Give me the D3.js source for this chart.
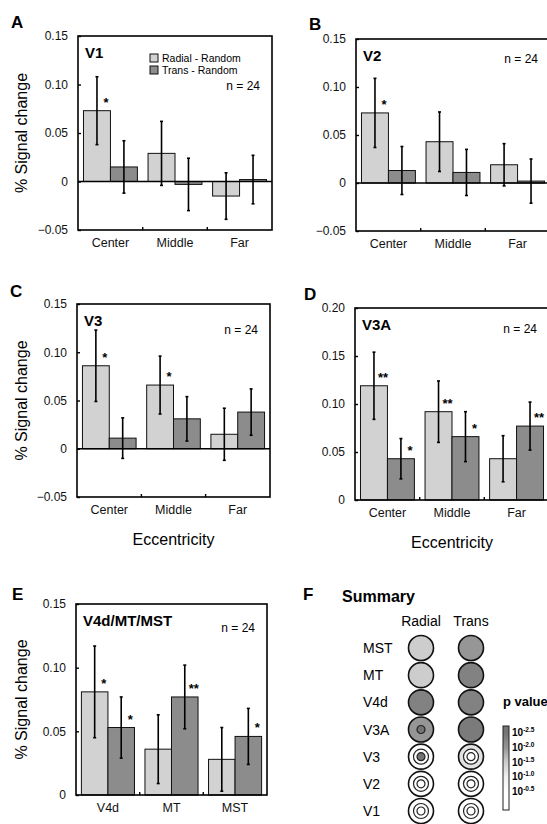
<!DOCTYPE html>
<html>
<head>
<meta charset="utf-8">
<script src="https://cdn.jsdelivr.net/npm/d3@7"></script>
<style>
body{margin:0;background:#fff;}
svg{font-family:"Liberation Sans",Arial,Helvetica,sans-serif;}
</style>
</head>
<body>
<svg id="fig" width="547" height="824"></svg>
<script>
/*
	Radial / Trans vs Random, % signal change by area
*/

var eccentricity = ["Center","Middle","Far"];
var areasE = ["V4d","MT","MST"];

//V1
var v1Radial = [0.073, 0.029, -0.015];
var v1RadialErr = [0.035, 0.033, 0.024];
var v1Trans = [0.015, -0.003, 0.002];
var v1TransErr = [0.027, 0.027, 0.025];
var v1RadialSig = ["*", "", ""];
var v1TransSig = ["", "", ""];

//V2
var v2Radial = [0.073, 0.043, 0.019];
var v2RadialErr = [0.036, 0.031, 0.022];
var v2Trans = [0.013, 0.011, 0.002];
var v2TransErr = [0.025, 0.024, 0.023];
var v2RadialSig = ["*", "", ""];
var v2TransSig = ["", "", ""];

//V3
var v3Radial = [0.086, 0.066, 0.015];
var v3RadialErr = [0.037, 0.030, 0.027];
var v3Trans = [0.011, 0.031, 0.038];
var v3TransErr = [0.021, 0.023, 0.024];
var v3RadialSig = ["*", "*", ""];
var v3TransSig = ["", "", ""];

//V3A
var v3aRadial = [0.119, 0.092, 0.043];
var v3aRadialErr = [0.035, 0.032, 0.024];
var v3aTrans = [0.043, 0.066, 0.077];
var v3aTransErr = [0.021, 0.026, 0.025];
var v3aRadialSig = ["**", "**", ""];
var v3aTransSig = ["*", "*", "**"];

//V4d/MT/MST
var v4Radial = [0.081, 0.036, 0.028];
var v4RadialErr = [0.036, 0.027, 0.025];
var v4Trans = [0.053, 0.077, 0.046];
var v4TransErr = [0.024, 0.025, 0.022];
var v4RadialSig = ["*", "", ""];
var v4TransSig = ["*", "**", "*"];

var ticksA = [-0.05, 0, 0.05, 0.10, 0.15];
var ticksD = [0, 0.05, 0.10, 0.15, 0.20];
var ticksE = [0, 0.05, 0.10, 0.15];

//Summary: -log10(p), rings [center, middle, far]
var summaryAreas = ["MST","MT","V4d","V3A","V3","V2","V1"];
var summaryCols = ["Radial","Trans"];
var radialP = [[1.5,1.5,1.5],[1.5,1.5,1.5],[2.3,2.3,2.3],[2.5,2.0,2.0],[2.5,0.5,0.5],[0.5,0.5,0.5],[0.5,0.5,0.5]];
var transP = [[2.0,2.0,2.0],[2.3,2.3,2.3],[2.3,2.3,2.3],[2.4,2.4,2.4],[0.5,0.5,1.2],[0.5,0.5,0.5],[0.5,0.5,0.5]];
var pTicks = [2.5, 2.0, 1.5, 1.0, 0.5];

var radialFill = "#d2d2d2";
var transFill = "#8c8c8c";

function init(){
	var svg = d3.select('#fig');

	barPanel(svg, {letter:"A", lx:11, ly:28, x0:78, x1:272, y0:36, y1:230, domain:[-0.05,0.15], ticks:ticksA,
		cats:eccentricity, radial:v1Radial, radialErr:v1RadialErr, trans:v1Trans, transErr:v1TransErr,
		radialSig:v1RadialSig, transSig:v1TransSig, title:"V1", nDy:54, yTitle:true, legend:true});

	barPanel(svg, {letter:"B", lx:309, ly:30, x0:356, x1:550, y0:39, y1:231, domain:[-0.05,0.15], ticks:ticksA,
		cats:eccentricity, radial:v2Radial, radialErr:v2RadialErr, trans:v2Trans, transErr:v2TransErr,
		radialSig:v2RadialSig, transSig:v2TransSig, title:"V2", nDy:24});

	barPanel(svg, {letter:"C", lx:10, ly:297, x0:77, x1:270, y0:304, y1:497, domain:[-0.05,0.15], ticks:ticksA,
		cats:eccentricity, radial:v3Radial, radialErr:v3RadialErr, trans:v3Trans, transErr:v3TransErr,
		radialSig:v3RadialSig, transSig:v3TransSig, title:"V3", nDy:30, yTitle:true, xTitle:"Eccentricity"});

	barPanel(svg, {letter:"D", lx:304, ly:300, x0:355, x1:549, y0:308, y1:500, domain:[0,0.20], ticks:ticksD,
		cats:eccentricity, radial:v3aRadial, radialErr:v3aRadialErr, trans:v3aTrans, transErr:v3aTransErr,
		radialSig:v3aRadialSig, transSig:v3aTransSig, title:"V3A", nDy:25, xTitle:"Eccentricity"});

	barPanel(svg, {letter:"E", lx:12, ly:600, x0:76, x1:267, y0:604, y1:795, domain:[0,0.15], ticks:ticksE,
		cats:areasE, radial:v4Radial, radialErr:v4RadialErr, trans:v4Trans, transErr:v4TransErr,
		radialSig:v4RadialSig, transSig:v4TransSig, title:"V4d/MT/MST", nDy:28, yTitle:true});

	summary(svg);
}

//Bar panels

function barPanel(svg, c){
	var g = svg.append("g");
	var x = d3.scaleBand().domain(c.cats).range([c.x0, c.x1]).paddingInner(0.165).paddingOuter(0.085);
	var x2 = d3.scaleBand().domain(["radial","trans"]).range([0, x.bandwidth()]);
	var y = d3.scaleLinear().domain(c.domain).range([c.y1, c.y0]);

	var rows = [];
	for (var i = 0; i < c.cats.length; i++) {
		rows.push({cat:c.cats[i], key:"radial", v:c.radial[i], e:c.radialErr[i], s:c.radialSig[i]});
		rows.push({cat:c.cats[i], key:"trans", v:c.trans[i], e:c.transErr[i], s:c.transSig[i]});
	}

	g.selectAll(".bar").data(rows).enter().append("rect")
		.attr("class","bar")
		.attr("x", function(d){ return x(d.cat)+x2(d.key); })
		.attr("y", function(d){ return y(Math.max(d.v,0)); })
		.attr("width", x2.bandwidth())
		.attr("height", function(d){ return Math.abs(y(d.v)-y(0)); })
		.attr("fill", function(d){ return d.key=="radial" ? radialFill : transFill; })
		.attr("stroke","#111")
		.attr("stroke-width",1);

	//zero line
	if (c.domain[0] < 0) {
		g.append("line")
			.attr("x1",c.x0).attr("x2",c.x1)
			.attr("y1",y(0)).attr("y2",y(0))
			.attr("stroke","#000").attr("stroke-width",1.6);
	}

	//error bars
	var eb = g.selectAll(".err").data(rows).enter().append("g").attr("class","err");
	eb.append("line")
		.attr("x1", function(d){ return x(d.cat)+x2(d.key)+x2.bandwidth()/2; })
		.attr("x2", function(d){ return x(d.cat)+x2(d.key)+x2.bandwidth()/2; })
		.attr("y1", function(d){ return y(d.v+d.e); })
		.attr("y2", function(d){ return y(d.v-d.e); })
		.attr("stroke","#000").attr("stroke-width",1.6);
	[1,-1].forEach(function(k){
		eb.append("line")
			.attr("x1", function(d){ return x(d.cat)+x2(d.key)+x2.bandwidth()/2-1.5; })
			.attr("x2", function(d){ return x(d.cat)+x2(d.key)+x2.bandwidth()/2+1.5; })
			.attr("y1", function(d){ return y(d.v+k*d.e); })
			.attr("y2", function(d){ return y(d.v+k*d.e); })
			.attr("stroke","#000").attr("stroke-width",1.6);
	});

	//stars
	g.selectAll(".sig").data(rows.filter(function(d){ return d.s; })).enter().append("text")
		.attr("class","sig")
		.attr("x", function(d){ return x(d.cat)+x2(d.key)+x2.bandwidth()/2+9; })
		.attr("y", function(d){ return y(Math.max(d.v,0))-4; })
		.attr("text-anchor","middle")
		.attr("font-size",13).attr("font-weight","bold")
		.text(function(d){ return d.s; });

	//frame
	g.append("rect")
		.attr("x",c.x0).attr("y",c.y0)
		.attr("width",c.x1-c.x0).attr("height",c.y1-c.y0)
		.attr("fill","none").attr("stroke","#000").attr("stroke-width",1.6);

	//y axis
	var fmt = function(v){ return v==0 ? "0" : d3.format(".2f")(v); };
	var ay = g.append("g").attr("transform","translate("+c.x0+",0)")
		.call(d3.axisLeft(y).tickValues(c.ticks).tickSize(-3).tickPadding(10).tickFormat(fmt));
	ay.select(".domain").remove();
	ay.selectAll("text").attr("font-size",12).attr("font-family",null).attr("fill","#111");
	ay.selectAll("line").attr("stroke-width",1.4);

	//x axis
	var ax = g.append("g").attr("transform","translate(0,"+c.y1+")")
		.call(d3.axisBottom(x).tickSize(0).tickPadding(8));
	ax.select(".domain").remove();
	ax.selectAll("text").attr("font-size",12.5).attr("font-family",null).attr("fill","#111");
	var gap = x.step()*x.paddingInner()/2;
	g.selectAll(".xt").data(c.cats.slice(0,-1)).enter().append("line")
		.attr("class","xt")
		.attr("x1", function(d){ return x(d)+x.bandwidth()+gap; })
		.attr("x2", function(d){ return x(d)+x.bandwidth()+gap; })
		.attr("y1", c.y1).attr("y2", c.y1-3)
		.attr("stroke","#000").attr("stroke-width",1.4);

	//texts
	g.append("text").attr("x",c.lx).attr("y",c.ly)
		.attr("font-size",17).attr("font-weight","bold").text(c.letter);
	g.append("text").attr("x",c.x0+7).attr("y",c.y0+22)
		.attr("font-size",15).attr("font-weight","bold").text(c.title);
	g.append("text").attr("x",c.x1-12).attr("y",c.y0+c.nDy)
		.attr("text-anchor","end").attr("font-size",12).text("n = 24");

	if (c.yTitle) {
		g.append("text")
			.attr("transform","translate(27,"+((c.y0+c.y1)/2)+") rotate(-90)")
			.attr("text-anchor","middle").attr("font-size",16)
			.text("% Signal change");
	}
	if (c.xTitle) {
		g.append("text").attr("x",(c.x0+c.x1)/2).attr("y",c.y1+48)
			.attr("text-anchor","middle").attr("font-size",16)
			.text(c.xTitle);
	}
	if (c.legend) {
		var lg = [{k:"Radial - Random", f:radialFill},{k:"Trans - Random", f:transFill}];
		var le = g.selectAll(".leg").data(lg).enter().append("g").attr("class","leg");
		le.append("rect")
			.attr("x",c.x0+72).attr("y",function(d,i){ return c.y0+18+i*12; })
			.attr("width",8).attr("height",8)
			.attr("fill",function(d){ return d.f; })
			.attr("stroke","#111").attr("stroke-width",1);
		le.append("text")
			.attr("x",c.x0+84).attr("y",function(d,i){ return c.y0+26+i*12; })
			.attr("font-size",10.5).text(function(d){ return d.k; });
	}
}

//Summary

function summary(svg){
	var g = svg.append("g");
	var pColor = d3.scaleLinear().domain([0.5,1.0,1.5,2.0,2.5])
		.range(["#ffffff","#f0f0f0","#cdcdcd","#969696","#747474"]);
	var row = d3.scalePoint().domain(summaryAreas).range([648,811]);
	var col = d3.scalePoint().domain(summaryCols).range([421,471]);
	var radii = [4, 7.5, 12.5];

	g.append("text").attr("x",303).attr("y",600)
		.attr("font-size",17).attr("font-weight","bold").text("F");
	g.append("text").attr("x",342).attr("y",602)
		.attr("font-size",16).attr("font-weight","bold").text("Summary");
	g.selectAll(".colh").data(summaryCols).enter().append("text")
		.attr("class","colh")
		.attr("x",function(d){ return col(d); }).attr("y",626)
		.attr("text-anchor","middle").attr("font-size",14).text(function(d){ return d; });
	g.selectAll(".rowh").data(summaryAreas).enter().append("text")
		.attr("class","rowh")
		.attr("x",363).attr("y",function(d){ return row(d)+5; })
		.attr("font-size",14).text(function(d){ return d; });

	var cells = [];
	summaryAreas.forEach(function(a,i){
		cells.push({area:a, col:"Radial", p:radialP[i]});
		cells.push({area:a, col:"Trans", p:transP[i]});
	});
	var cg = g.selectAll(".cell").data(cells).enter().append("g")
		.attr("class","cell")
		.attr("transform",function(d){ return "translate("+col(d.col)+","+row(d.area)+")"; });
	for (var r = 2; r >= 0; r--) {
		(function(r){
			cg.append("circle")
				.attr("r",radii[r])
				.attr("fill",function(d){ return pColor(d.p[r]); })
				.attr("stroke",function(d){
					if (r==2) return "#111";
					return (d.p[r] < 1.3 || d.p[r] != d.p[r+1]) ? "#222" : "none";
				})
				.attr("stroke-width", r==2 ? 1.6 : 1.2);
		})(r);
	}

	//colour bar
	var py = d3.scaleLinear().domain([2.5,0.5]).range([733,792]);
	var grad = svg.append("defs").append("linearGradient")
		.attr("id","pgrad").attr("x1",0).attr("x2",0).attr("y1",0).attr("y2",1);
	var top = 726, bot = 810;
	pTicks.forEach(function(p){
		grad.append("stop").attr("offset",(py(p)-top)/(bot-top)).attr("stop-color",pColor(p));
	});
	g.append("text").attr("x",503).attr("y",706)
		.attr("font-size",13).attr("font-weight","bold").text("p value");
	g.append("rect").attr("x",503).attr("y",top).attr("width",6).attr("height",bot-top)
		.attr("fill","url(#pgrad)").attr("stroke","#222").attr("stroke-width",1);
	var lab = g.selectAll(".pt").data(pTicks).enter().append("text")
		.attr("class","pt")
		.attr("x",512).attr("y",function(d){ return py(d)+3; })
		.attr("font-size",10).attr("font-weight","bold");
	lab.append("tspan").text("10");
	lab.append("tspan").attr("dy",-4).attr("font-size",6.5)
		.text(function(d){ return "-"+d3.format(".1f")(d); });
}

init();
</script>
</body>
</html>
